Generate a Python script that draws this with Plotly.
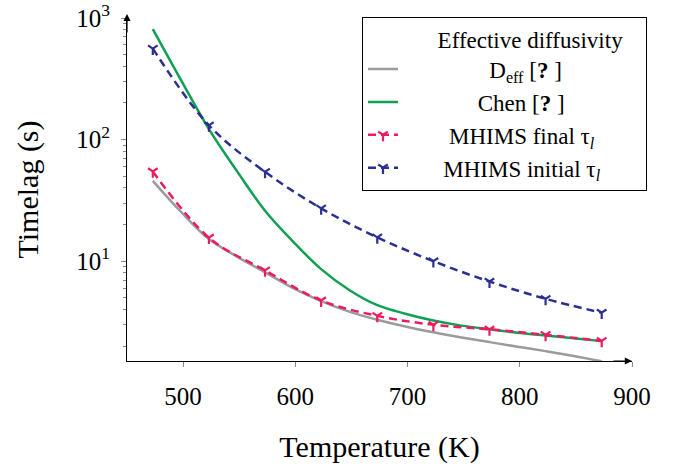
import plotly.graph_objects as go

# ---- data ----
temp_markers = [473, 523, 573, 623, 673, 723, 773, 823, 873]
mhims_initial = [560, 131, 54.3, 27.2, 15.7, 10.0, 6.8, 4.9, 3.77]
mhims_final = [54.7, 15.6, 8.4, 4.75, 3.55, 3.0, 2.75, 2.48, 2.21]

temp_curve = [473, 498, 523, 548, 573, 598, 623, 648, 673, 698, 723, 748, 773, 798, 823, 848, 873]
d_eff = [45.8, 25.5, 15.2, 10.9, 8.1, 6.0, 4.7, 3.85, 3.3, 2.9, 2.6, 2.36, 2.16, 1.98, 1.82, 1.66, 1.5]
chen = [810, 310, 122, 55, 26, 14.5, 8.6, 5.8, 4.35, 3.7, 3.25, 2.95, 2.75, 2.58, 2.45, 2.32, 2.2]

x_ticks = [500, 600, 700, 800, 900]
y_ticks = [10, 100, 1000]
y_ticktext = ["10<sup>1</sup>", "10<sup>2</sup>", "10<sup>3</sup>"]
y_minor = [m * d for d in (1, 10, 100) for m in range(2, 10)]

NB = "\u00a0"
legend_title = NB * 9 + "Effective diffusivity"
names = [NB * 15 + "D<sub>eff</sub> [<b>?</b> ]",
         NB * 13 + "Chen [<b>?</b> ]",
         NB * 8 + "MHIMS final τ<sub><i>l</i></sub>",
         NB * 7 + "MHIMS initial τ<sub><i>l</i></sub>" + NB * 7]

GRAY = "#9b9b9b"
GREEN = "#0fa052"
RED = "#ec1a5e"
BLUE = "#2c2f8e"
FONT = "Liberation Serif, serif"
FS = 25
LFS = 23

fig = go.Figure()
fig.add_trace(go.Scatter(x=temp_curve, y=d_eff, mode="lines", name=names[0],
                         line=dict(color=GRAY, width=2.5, shape="spline")))
fig.add_trace(go.Scatter(x=temp_curve, y=chen, mode="lines", name=names[1],
                         line=dict(color=GREEN, width=2.5, shape="spline")))
fig.add_trace(go.Scatter(x=temp_markers, y=mhims_final, mode="lines+markers", name=names[2],
                         line=dict(color=RED, width=2.5, dash="8px,5px", shape="spline"),
                         marker=dict(symbol="y-down", size=8, line=dict(color=RED, width=2.2))))
fig.add_trace(go.Scatter(x=temp_markers, y=mhims_initial, mode="lines+markers", name=names[3],
                         line=dict(color=BLUE, width=2.5, dash="8px,5px", shape="spline"),
                         marker=dict(symbol="y-down", size=8, line=dict(color=BLUE, width=2.2))))

fig.update_layout(
    width=676, height=464,
    margin=dict(l=127, r=44, t=18, b=103, autoexpand=False),
    paper_bgcolor="white", plot_bgcolor="white",
    font=dict(family=FONT, size=FS, color="black"),
    showlegend=True,
    legend=dict(
        x=(647 - 127) / 505, xanchor="right", y=1.004, yanchor="top",
        bordercolor="black", borderwidth=1, bgcolor="white",
        font=dict(family=FONT, size=LFS),
        title=dict(text=legend_title, side="top center", font=dict(family=FONT, size=LFS)),
        tracegroupgap=0,
    ),
    xaxis=dict(
        range=[450, 900], tickvals=x_ticks, ticks="outside", ticklen=5, tickwidth=1,
        tickcolor="#888", showline=True, linecolor="black", linewidth=1.2,
        showgrid=False, zeroline=False, ticklabelstandoff=8, automargin=False,
        title=dict(text="Temperature (K)", standoff=30),
    ),
    yaxis=dict(
        type="log", range=[0.179, 3.0], tickvals=y_ticks, ticktext=y_ticktext,
        ticks="outside", ticklen=5, tickwidth=1, tickcolor="#888",
        minor=dict(tickvals=y_minor, ticks="outside", ticklen=3, tickcolor="#888", showgrid=False),
        showline=True, linecolor="black", linewidth=1.2, showgrid=False, zeroline=False,
        ticklabelstandoff=6, automargin=False,
        title=dict(text="Timelag (s)", standoff=28),
    ),
    xaxis2=dict(
        overlaying="x", anchor="y", range=[450, 900], tickvals=x_ticks, ticks="inside",
        ticklen=5, tickwidth=1, tickcolor="#888", showticklabels=False, showline=False,
        showgrid=False, zeroline=False, side="bottom",
    ),
    yaxis2=dict(
        overlaying="y", anchor="x", type="log", range=[0.179, 3.0], tickvals=y_ticks,
        ticks="inside", ticklen=5, tickwidth=1, tickcolor="#888",
        minor=dict(tickvals=y_minor, ticks="inside", ticklen=3, tickcolor="#888", showgrid=False),
        showticklabels=False, showline=False, showgrid=False, zeroline=False, side="left",
    ),
)

# axis arrow heads
fig.add_annotation(x=0, y=1.012, xref="paper", yref="paper", ax=0, ay=20, text="",
                   showarrow=True, arrowhead=2, arrowsize=1.2, arrowwidth=1.2, arrowcolor="black")
fig.add_annotation(x=1.0, y=0, xref="paper", yref="paper", ax=-20, ay=0, text="",
                   showarrow=True, arrowhead=2, arrowsize=1.2, arrowwidth=1.2, arrowcolor="black")

fig.write_html("out.html", config={"displayModeBar": False},
               post_script="document.body.style.margin='0px';")
